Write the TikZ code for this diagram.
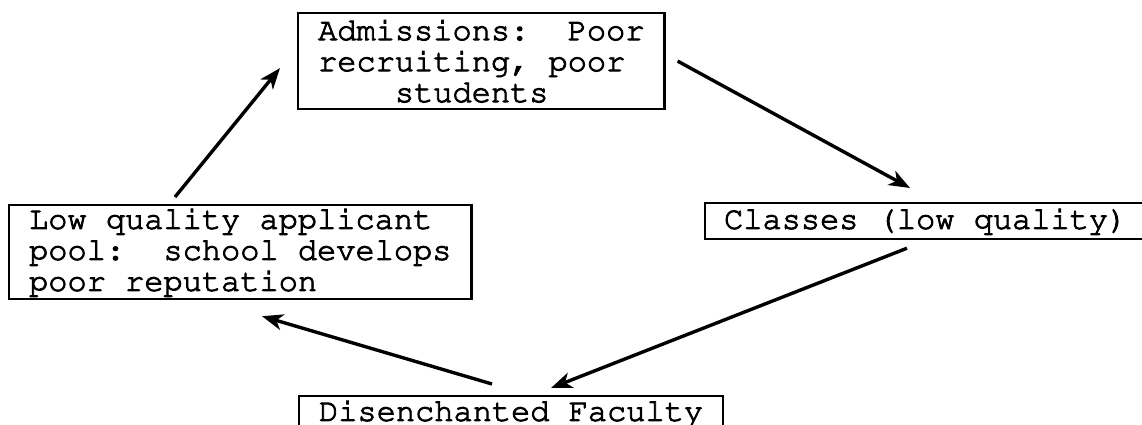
\documentclass[tikz,border=0pt]{standalone}
\usepackage[T1]{fontenc}
\renewcommand\ttdefault{pcr}
\usetikzlibrary{arrows.meta}

% typewriter text a little heavier than plain Courier
\newcommand\inkon{\special{pdf:literal direct 2 Tr 0.9 w}}
\newcommand\inkoff{\special{pdf:literal direct 0 Tr}}

\begin{document}
\begin{tikzpicture}[x=1pt,y=-1pt,
    box/.style={draw, line width=2.2pt, anchor=north west,
      inner xsep=20pt, inner ysep=3pt,
      font=\ttfamily\frenchspacing\fontsize{32}{31}\selectfont,
      execute at begin node=\inkon, execute at end node=\inkoff},
    arr/.style={-{Stealth[length=21pt,width=16pt,inset=6pt]}, line width=3.4pt}]
  \useasboundingbox (0,0) rectangle (1142,425);

  % the four stages of the cycle
  \node[box, align=left, minimum height=96pt] (adm) at (297,12)
    {Admissions:~~Poor\\recruiting, poor\\\phantom{xxxx}students};
  \node[box, align=left, minimum height=94pt] (low) at (8,204)
    {Low quality applicant\\pool:~~school develops\\poor reputation};
  \node[box, draw=none, minimum height=34pt, inner xsep=18pt] (cls) at (705,203)
    {Classes (low quality)};
  \node[box, minimum height=34pt] (fac) at (298,395)
    {Disenchanted Faculty};
  % this box runs on past the right margin
  \draw[line width=2.2pt] ([xshift=40pt]cls.north east) -- (cls.north west)
    -- (cls.south west) -- ([xshift=40pt]cls.south east);

  % arrows round the cycle
  \draw[arr] ([shift={(167,-7)}]low.north west) -- ([shift={(-17,7)}]adm.west);
  \draw[arr] ([shift={(12,0)}]adm.east) -- ([shift={(205,-15)}]cls.north west);
  \draw[arr] ([shift={(202,9)}]cls.south west) -- ([shift={(253,-7)}]fac.north west);
  \draw[arr] ([shift={(194,-11)}]fac.north west) -- ([shift={(254,16)}]low.south west);
\end{tikzpicture}
\end{document}
